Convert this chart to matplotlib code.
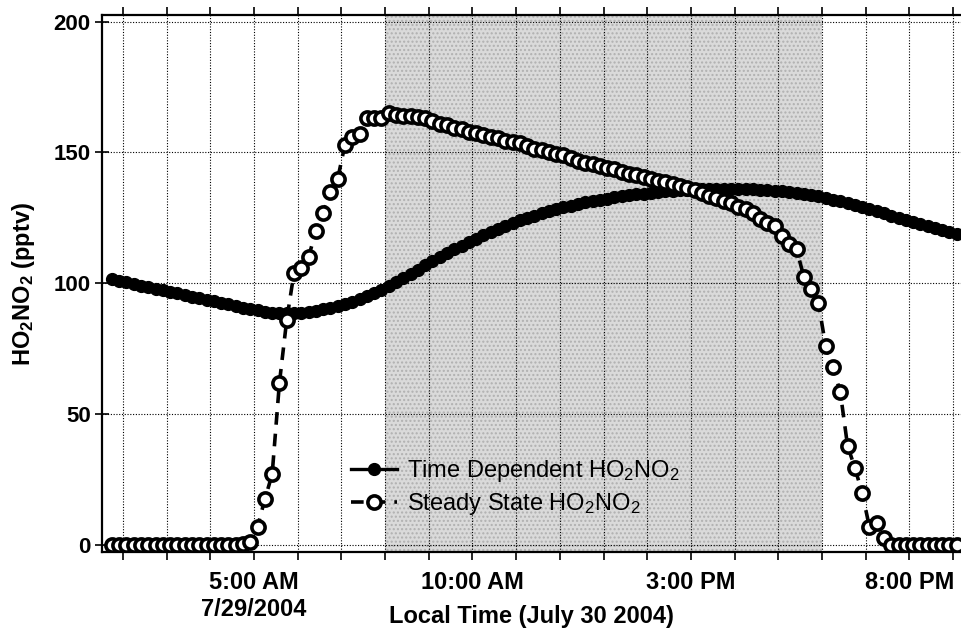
import numpy as np
import matplotlib
matplotlib.use('Agg')
from matplotlib import pyplot as plt
from matplotlib.ticker import MultipleLocator, FixedLocator

plt.rcParams['font.family'] = ['Liberation Sans', 'DejaVu Sans']
plt.rcParams['mathtext.fontset'] = 'custom'
plt.rcParams['mathtext.rm'] = 'Liberation Sans'
plt.rcParams['mathtext.bf'] = 'Liberation Sans:bold'
plt.rcParams['mathtext.default'] = 'regular'
plt.rcParams['hatch.linewidth'] = 1.0

# hours (local time), 10 minute steps from 1:45 to 21:05
hours = 1.75 + np.arange(117) / 6.0

time_dependent = [
    101.5, 100.9, 100.3, 99.7, 99.1, 98.5, 97.9, 97.3, 96.7, 96.1,
    95.5, 94.9, 94.3, 93.7, 93.1, 92.5, 91.9, 91.3, 90.7, 90.1,
    89.6, 89.2, 88.8, 88.6, 88.5, 88.6, 88.8, 89.1, 89.5, 90.0,
    90.6, 91.3, 92.1, 93.0, 94.0, 95.1, 96.3, 97.6, 99.0, 100.5,
    102.0, 103.6, 105.2, 106.8, 108.4, 110.0, 111.5, 113.0, 114.4, 115.8,
    117.1, 118.4, 119.6, 120.8, 121.9, 123.0, 124.0, 125.0, 125.9, 126.7,
    127.5, 128.3, 129.0, 129.7, 130.3, 130.9, 131.4, 131.9, 132.4, 132.8,
    133.2, 133.6, 134.0, 134.3, 134.6, 134.9, 135.1, 135.3, 135.5, 135.7,
    135.8, 135.9, 136.0, 136.1, 136.1, 136.1, 136.1, 136.0, 135.9, 135.8,
    135.6, 135.4, 135.2, 134.9, 134.6, 134.2, 133.8, 133.4, 132.7, 132.0,
    131.3, 130.6, 129.9, 129.1, 128.3, 127.5, 126.7, 125.9, 125.1, 124.3,
    123.5, 122.7, 121.9, 121.1, 120.3, 119.5, 118.7,
]

steady_state = [
    0, 0, 0, 0, 0, 0, 0, 0, 0, 0,
    0, 0, 0, 0, 0, 0, 0, 0, 0.5, 1,
    7, 17.5, 27, 62, 86, 104, 106, 110, 120, 127,
    135, 140, 153, 156, 157, 163, 163, 163, 165, 164.5,
    164, 164, 163.5, 163, 162, 161, 160.5, 159.5, 158.8, 158,
    157.3, 156.7, 156, 155.5, 154.5, 154, 153.5, 152.5, 151.5, 151,
    150, 149.5, 149, 147.8, 146.8, 145.8, 145.5, 144.8, 144, 143.5,
    142.5, 141.8, 141.4, 140.8, 140, 139.2, 138.8, 138, 137, 136.3,
    135.5, 134.5, 133.5, 132.5, 131.5, 130.5, 129.3, 128.2, 127, 124.5,
    123, 122, 118, 115, 113, 102.5, 98, 92.5, 76, 68,
    58.5, 38, 29.5, 20, 7, 8.5, 2.5, 0, 0, 0,
    0, 0, 0, 0, 0, 0, 0,
]

daylight = (8, 18)
x_ticks = [5, 10, 15, 20]
x_ticklabels = ['5:00 AM\n7/29/2004', '10:00 AM', '3:00 PM', '8:00 PM']

fig = plt.figure(figsize=(9.61, 6.28), dpi=100)
ax = fig.add_axes([0.1061, 0.121, 0.8939, 0.855])

# shaded daytime block (halftone look)
ax.axvspan(daylight[0], daylight[1], facecolor='#dadada', edgecolor='#b0b0b0',
           hatch='....', lw=0, zorder=0)

ax.plot(hours, time_dependent, '-', color='black', lw=2.4, marker='o',
        ms=8.5, mfc='black', mec='black', zorder=3,
        label='Time Dependent HO$_2$NO$_2$')
ax.plot(hours, steady_state, color='black', lw=2.6, ls=(0, (3.5, 2.5)),
        marker='o', ms=9.5, mfc='white', mec='black', mew=2.6, zorder=4,
        label='Steady State HO$_2$NO$_2$')

ax.set_xlim(1.522, 21.18)
ax.set_ylim(-2.7, 202.5)

ax.xaxis.set_major_locator(FixedLocator(x_ticks))
ax.xaxis.set_minor_locator(MultipleLocator(1))
ax.set_xticklabels(x_ticklabels)
ax.yaxis.set_major_locator(MultipleLocator(50))

ax.grid(True, which='both', axis='x', color='black', ls=(0, (1, 1.5)), lw=0.8, zorder=1)
ax.grid(True, which='major', axis='y', color='black', ls=(0, (1, 1.5)), lw=0.8, zorder=1)
ax.set_axisbelow(False)

ax.spines['right'].set_visible(False)
for s in ['left', 'bottom', 'top']:
    ax.spines[s].set_linewidth(1.6)

ax.tick_params(axis='x', which='both', labelsize=17, pad=8, width=1.2)
ax.tick_params(axis='x', which='both', top=True, direction='inout', length=9,
               bottom=False)
ax.tick_params(axis='x', which='both', bottom=True, direction='out', length=6)
ax.tick_params(axis='y', which='both', direction='inout', length=10, width=1.2,
               labelsize=16, pad=3)
for lab in ax.get_xticklabels() + ax.get_yticklabels():
    lab.set_fontweight('bold')

ax.set_xlabel('Local Time (July 30 2004)', fontsize=17, fontweight='bold')
ax.xaxis.set_label_coords(0.5, -0.099)
ax.set_ylabel(r'HO$_\mathbf{2}$NO$_\mathbf{2}$ (pptv)', fontsize=17, fontweight='bold')
ax.yaxis.set_label_coords(-0.0757, 0.5)

leg = ax.legend(loc='upper left', bbox_to_anchor=(0.2785, 0.192), frameon=False,
                fontsize=17, handlelength=1.95, handletextpad=0.42,
                labelspacing=0.3, borderaxespad=0)

fig.savefig('out.png', dpi=100)
